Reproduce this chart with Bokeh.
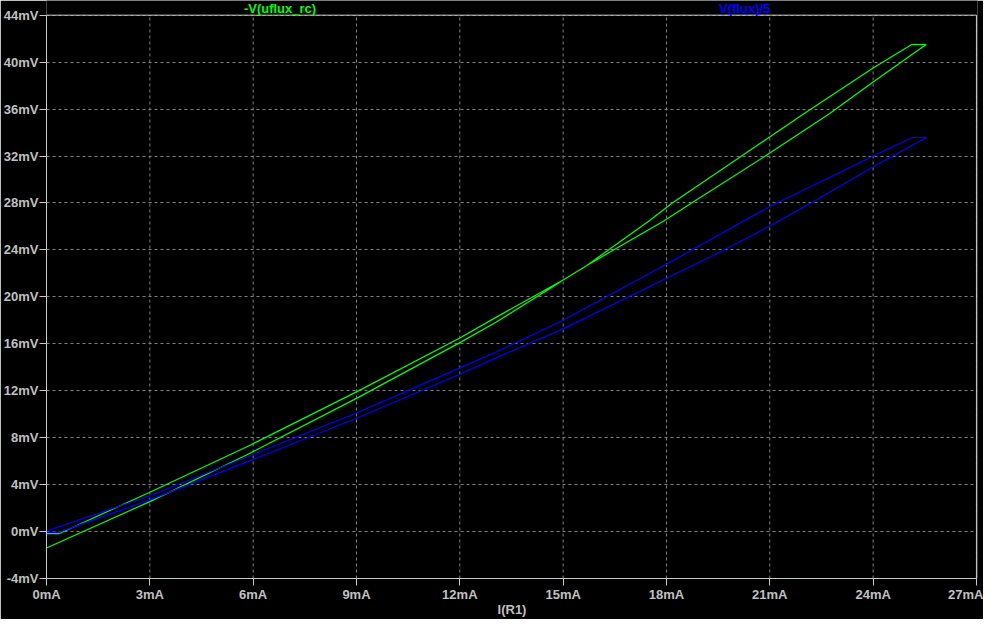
from bokeh.plotting import figure
from bokeh.models import Range1d, FixedTicker, Label
from bokeh.embed import file_html
from bokeh.resources import INLINE

# X axis: I(R1) in mA ; Y axis: mV
x_ticks = [0, 3, 6, 9, 12, 15, 18, 21, 24, 27]
x_labels = ["0mA", "3mA", "6mA", "9mA", "12mA", "15mA", "18mA", "21mA", "24mA", "27mA"]
y_ticks = [-4, 0, 4, 8, 12, 16, 20, 24, 28, 32, 36, 40, 44]
y_labels = ["-4mV", "0mV", "4mV", "8mV", "12mV", "16mV", "20mV", "24mV",
            "28mV", "32mV", "36mV", "40mV", "44mV"]

# -V(uflux_rc) trace (closed loop, figure-eight)
green_i = [0.0, 3.0, 5.82, 9.0, 12.0, 13.05, 14.7, 15.0, 15.7, 17.48, 18.17,
           20.18, 21.99, 24.0, 25.12, 25.54, 24.0, 22.73, 20.87, 18.73, 17.91,
           15.7, 15.0, 14.7, 13.05, 12.0, 9.0, 5.82, 3.0, 0.37, 0.0]
green_v = [-1.4, 2.55, 6.55, 11.35, 16.1, 17.83, 20.85, 21.44, 22.7, 26.44, 28.0,
           32.0, 35.6, 39.5, 41.5, 41.5, 38.3, 35.6, 32.0, 28.0, 26.44,
           22.7, 21.44, 20.95, 18.25, 16.5, 11.9, 7.22, 3.35, -0.17, -0.17]

# V(flux)/5 trace (closed loop)
blue_i = [0.0, 3.0, 5.82, 9.0, 12.0, 13.05, 15.0, 18.0, 19.41, 21.0, 21.72, 24.0,
          25.14, 25.55, 24.0, 22.2, 21.0, 19.41, 18.0, 15.0, 13.05, 12.0, 9.0,
          5.82, 3.0, 0.36, 0.0]
blue_v = [0.05, 3.05, 6.35, 10.1, 13.95, 15.3, 18.0, 22.78, 25.1, 27.69, 28.72, 32.0,
          33.58, 33.58, 31.08, 28.0, 26.03, 23.6, 21.58, 17.27, 14.8, 13.4, 9.65,
          5.94, 2.7, -0.05, -0.05]

trace_names = ["-V(uflux_rc)", "V(flux)/5"]
trace_colors = ["#00ff00", "#0000ff"]
x_title = "I(R1)"

AXIS_COL = "#c8c8c8"
LABEL_COL = "#c0c0c0"
GRID_COL = "#808080"
FONT = "Liberation Sans"

x0, x1 = x_ticks[0], x_ticks[-1]
y0, y1 = y_ticks[0], y_ticks[-1]

# frame extends to the canvas top so the trace names can sit above the plot box
p = figure(width=983, height=619, output_backend="svg", toolbar_location=None,
           x_range=Range1d(x0, x1 + 0.03), y_range=Range1d(y0, y1 + 1.25),
           min_border_left=40, min_border_right=6, min_border_top=0,
           min_border_bottom=0)
p.background_fill_color = "black"
p.border_fill_color = "black"
p.outline_line_color = None

# grid (vertical lines limited to the plot box)
p.xgrid.visible = False
p.segment(x0=x_ticks, y0=[y0] * len(x_ticks), x1=x_ticks, y1=[y1] * len(x_ticks),
          line_color=GRID_COL, line_dash="3 3", line_width=1)
p.ygrid.ticker = FixedTicker(ticks=y_ticks)
p.ygrid.grid_line_color = GRID_COL
p.ygrid.grid_line_dash = "3 3"

# top and right edges of the plot box
p.segment(x0=[x0, x1], y0=[y1, y0], x1=[x1, x1], y1=[y1, y1],
          line_color=AXIS_COL, line_width=1)

p.line(green_i, green_v, line_color=trace_colors[0], line_width=1.2)
p.line(blue_i, blue_v, line_color=trace_colors[1], line_width=1.2)

p.xaxis.ticker = FixedTicker(ticks=x_ticks)
p.yaxis.ticker = FixedTicker(ticks=y_ticks)
p.xaxis.major_label_overrides = dict(zip(x_ticks, x_labels))
p.yaxis.major_label_overrides = dict(zip(y_ticks, y_labels))
p.xaxis.bounds = (x0, x1)
p.yaxis.bounds = (y0, y1)

for ax in (p.xaxis[0], p.yaxis[0]):
    ax.axis_line_color = AXIS_COL
    ax.major_tick_line_color = AXIS_COL
    ax.major_tick_out = 7
    ax.major_tick_in = 0
    ax.minor_tick_line_color = None
    ax.major_label_text_color = LABEL_COL
    ax.major_label_text_font = FONT
    ax.major_label_text_font_size = "13px"
    ax.major_label_text_font_style = "bold"
p.yaxis.major_label_standoff = 1
p.xaxis.major_label_standoff = 1
p.xaxis.axis_label = x_title
p.xaxis.axis_label_text_color = LABEL_COL
p.xaxis.axis_label_text_font = FONT
p.xaxis.axis_label_text_font_size = "13px"
p.xaxis.axis_label_text_font_style = "bold"
p.xaxis.axis_label_standoff = -3

p.add_layout(Label(x=6.78, y=44.6, text=trace_names[0], text_color=trace_colors[0],
                   text_font=FONT, text_font_size="13px", text_font_style="bold",
                   text_align="center", text_baseline="middle"))
p.add_layout(Label(x=20.27, y=44.6, text=trace_names[1], text_color=trace_colors[1],
                   text_font=FONT, text_font_size="13px", text_font_style="bold",
                   text_align="center", text_baseline="middle"))

open("out.html", "w").write(file_html(p, INLINE))
